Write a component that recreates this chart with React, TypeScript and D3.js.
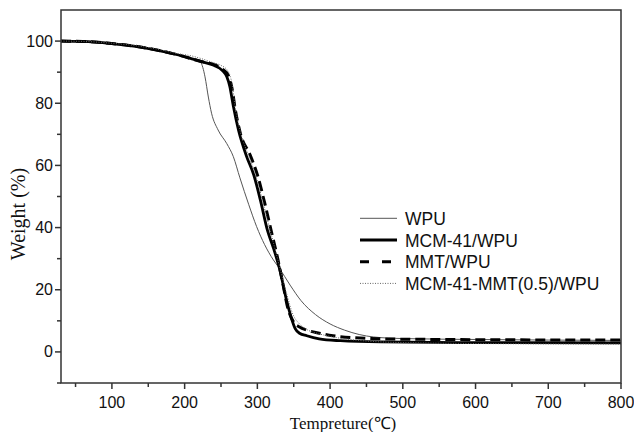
import React from "react";
import * as d3 from "d3";

const W = 634;
const H = 432;

const xTicks = [100, 200, 300, 400, 500, 600, 700, 800];
const xMinorTicks = [50, 150, 250, 350, 450, 550, 650, 750];
const yTicks = [0, 20, 40, 60, 80, 100];
const yMinorTicks = [-10, 10, 30, 50, 70, 90];

const legendLabels = ["WPU", "MCM-41/WPU", "MMT/WPU", "MCM-41-MMT(0.5)/WPU"];

const wpuT = [30, 60, 100, 130, 160, 190, 210, 222, 225, 228, 232.6, 237, 246, 258, 267, 276, 288, 299, 310, 322, 330, 345, 360, 380, 400, 420, 440, 460, 500, 600, 800];
const wpuW = [100, 99.9, 99.2, 98.4, 97.2, 95.6, 94.3, 93.2, 91.5, 88.5, 82, 76.8, 71.4, 67, 62.8, 56, 47.5, 40.3, 34.5, 29.6, 27, 21.5, 16.5, 12, 9, 7, 5.6, 4.8, 4.3, 4.0, 3.7];

const mcmT = [30, 60, 100, 130, 160, 190, 210, 225, 240, 252, 258, 262, 267, 274, 285, 295, 304, 314, 322, 331, 340, 346, 352, 358, 368, 385, 414, 470, 600, 800];
const mcmW = [100, 99.9, 99.2, 98.4, 97.2, 95.6, 94.3, 93.3, 92.2, 90.5, 88.5, 85.5, 79, 71.4, 63, 57, 49, 39, 33.5, 26.3, 16.7, 11.5, 7.5, 6, 5.2, 4.2, 3.6, 3.2, 3.0, 2.9];

const mmtT = [30, 60, 100, 130, 160, 190, 210, 225, 240, 252, 260, 265, 270, 277, 290, 300, 310, 320, 328, 335, 342, 350, 358, 368, 385, 404, 430, 500, 800];
const mmtW = [100, 99.9, 99.2, 98.4, 97.2, 95.6, 94.3, 93.3, 92.5, 91, 89, 85, 77.5, 70, 63.4, 57, 48, 38, 30, 22, 14, 9.5, 8, 7, 6, 5.2, 4.6, 4.1, 3.8];

const mixT = [30, 60, 100, 130, 160, 190, 210, 221, 240, 249, 260, 265, 270, 277, 290, 300, 310, 320, 330, 340, 349, 358, 368, 382, 400, 414, 450, 500, 600, 800];
const mixW = [100, 99.9, 99.3, 98.6, 97.5, 96, 95.2, 94.5, 93, 92.3, 90.2, 86.4, 78, 70.5, 62, 55, 46, 37, 28, 19, 12, 9, 7.2, 6, 5, 4.4, 3.5, 3, 2.7, 2.5];

const seriesT = [wpuT, mcmT, mmtT, mixT];
const seriesW = [wpuW, mcmW, mmtW, mixW];

const styles = [
  { stroke: "#555", width: 1, dash: "", legendDash: "" },
  { stroke: "#000", width: 2.8, dash: "", legendDash: "" },
  { stroke: "#000", width: 3, dash: "10,5", legendDash: "9,13" },
  { stroke: "#666", width: 1, dash: "1,1.5", legendDash: "1,1.5" },
];

export default function App() {
  const left = 61, right = 621, top = 10, bottom = 383;
  const x = d3.scaleLinear().domain([30, 800]).range([left, right]);
  const y = d3.scaleLinear().domain([-10, 110]).range([bottom, top]);
  const line = d3
    .line<[number, number]>()
    .x((d) => x(d[0]))
    .y((d) => y(d[1]))
    .curve(d3.curveMonotoneX);

  const axisColor = "#333";
  const tickFont = "'Liberation Sans', Arial, sans-serif";
  const serif = "'Liberation Serif', 'Times New Roman', serif";

  return (
    <svg width={W} height={H} style={{ position: "absolute", left: 0, top: 0, background: "#fff" }}>
      <rect x={0} y={0} width={W} height={H} fill="#fff" />
      <defs>
        <clipPath id="plot">
          <rect x={left} y={top} width={right - left} height={bottom - top} />
        </clipPath>
      </defs>
      <g clipPath="url(#plot)">
        {seriesT.map((ts, i) => (
          <path
            key={i}
            d={line(ts.map((t, j) => [t, seriesW[i][j]] as [number, number])) || ""}
            fill="none"
            stroke={styles[i].stroke}
            strokeWidth={styles[i].width}
            strokeDasharray={styles[i].dash || undefined}
            strokeLinejoin="round"
          />
        ))}
      </g>
      <rect x={left} y={top} width={right - left} height={bottom - top} fill="none" stroke={axisColor} strokeWidth={1.5} />
      {xTicks.map((t) => (
        <g key={"xt" + t}>
          <line x1={x(t)} x2={x(t)} y1={bottom} y2={bottom + 6} stroke={axisColor} strokeWidth={1.5} />
          <text x={x(t)} y={408} textAnchor="middle" fontFamily={tickFont} fontSize={16} fill="#111">
            {t}
          </text>
        </g>
      ))}
      {xMinorTicks.map((t) => (
        <line key={"xm" + t} x1={x(t)} x2={x(t)} y1={bottom} y2={bottom + 4} stroke={axisColor} strokeWidth={1.5} />
      ))}
      {yTicks.map((v) => (
        <g key={"yt" + v}>
          <line x1={left - 6} x2={left} y1={y(v)} y2={y(v)} stroke={axisColor} strokeWidth={1.5} />
          <text x={53} y={y(v) + 5.5} textAnchor="end" fontFamily={tickFont} fontSize={16} fill="#111">
            {v}
          </text>
        </g>
      ))}
      {yMinorTicks.map((v) => (
        <line key={"ym" + v} x1={left - 4} x2={left} y1={y(v)} y2={y(v)} stroke={axisColor} strokeWidth={1.5} />
      ))}
      <text x={(left + right) / 2 + 2} y={429} textAnchor="middle" fontFamily={serif} fontSize={17} fill="#111">
        Tempreture(℃)
      </text>
      <text
        transform={`translate(25, 214) rotate(-90)`}
        textAnchor="middle"
        fontFamily={serif}
        fontSize={20}
        fill="#111"
      >
        Weight (%)
      </text>
      {legendLabels.map((lab, i) => {
        const ly = 218.3 + i * 21.7;
        return (
          <g key={"lg" + i}>
            <line
              x1={360}
              x2={397}
              y1={ly}
              y2={ly}
              stroke={styles[i].stroke}
              strokeWidth={styles[i].width}
              strokeDasharray={styles[i].legendDash || undefined}
            />
            <text x={405} y={ly + 6.5} fontFamily={tickFont} fontSize={17.5} fill="#111">
              {lab}
            </text>
          </g>
        );
      })}
    </svg>
  );
}
